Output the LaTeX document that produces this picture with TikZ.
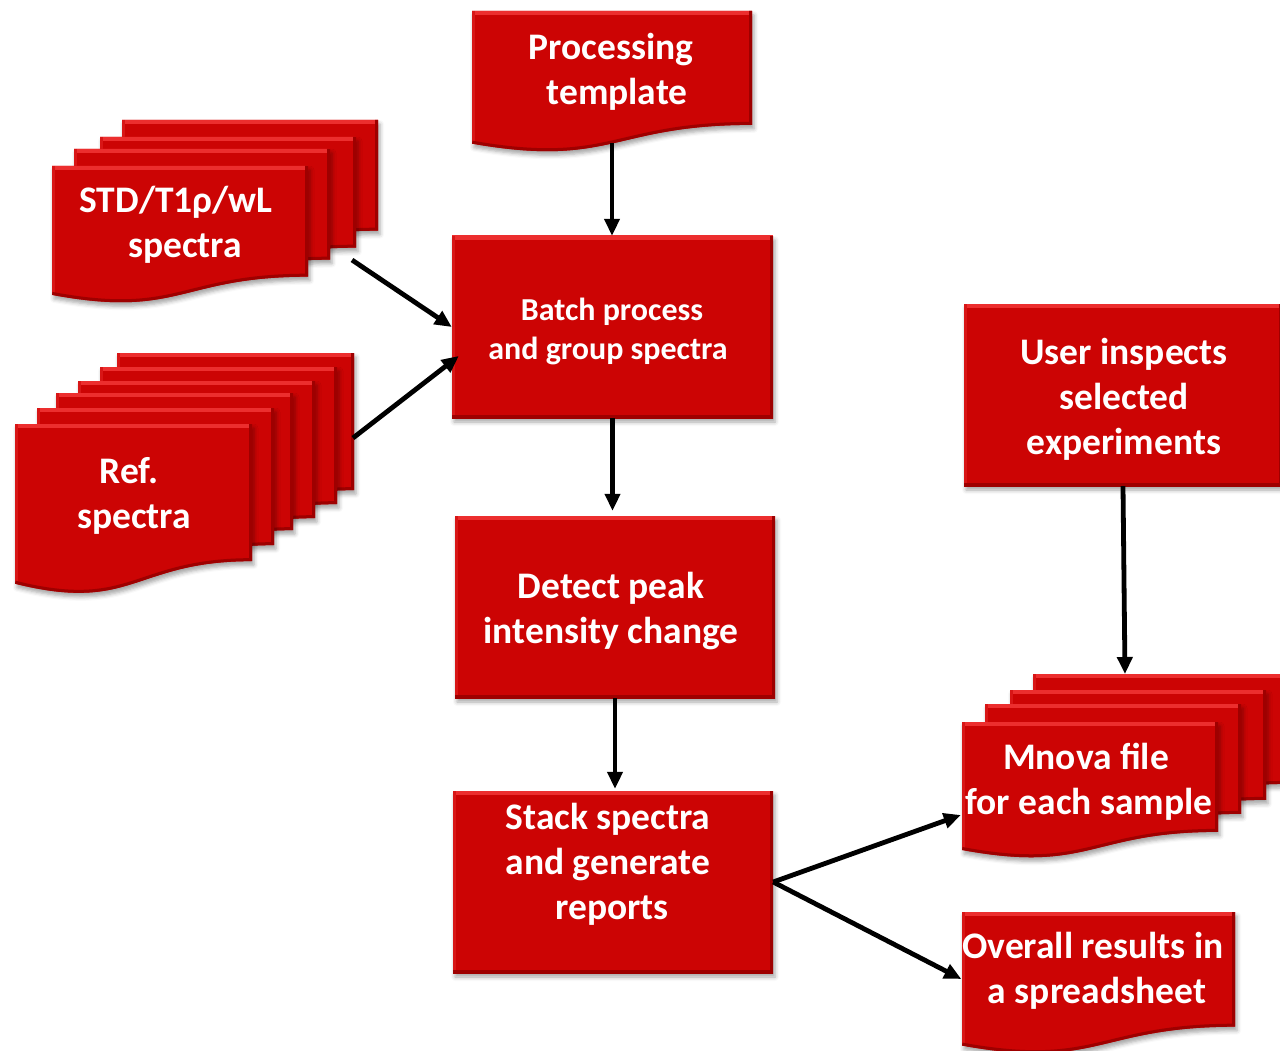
\documentclass[tikz,border=0pt]{standalone}
\usepackage{fontspec}
\setmainfont{Carlito}
\usetikzlibrary{arrows.meta,shadows.blur,calc}
\definecolor{redmain}{RGB}{204,4,4}
\definecolor{bevlight}{RGB}{236,46,46}
\definecolor{bevdark}{RGB}{158,0,0}
\definecolor{bevside}{RGB}{216,22,22}
\tikzset{
  pageshadow/.style={blur shadow={shadow xshift=2pt, shadow yshift=-4pt, shadow blur radius=4pt, shadow opacity=35}},
  rbox/.style={fill=redmain, inner sep=0pt, minimum width=320pt, minimum height=182pt, pageshadow,
    path picture={
      \draw[bevlight, line width=8pt] (path picture bounding box.north west) -- (path picture bounding box.north east);
      \draw[bevside, line width=6pt] (path picture bounding box.north west) -- (path picture bounding box.south west);
      \draw[bevdark, line width=6pt] (path picture bounding box.north east) -- (path picture bounding box.south east) -- (path picture bounding box.south west);
    }},
  frame/.style={inner sep=0pt, draw=none, fill=none},
  txtL/.style={text=white, align=center, inner sep=0pt, font=\fontsize{37.5}{45}\selectfont\bfseries},
  txtS/.style={text=white, align=center, inner sep=0pt, font=\fontsize{32}{39}\selectfont\bfseries},
  arr/.style={line width=4.8pt, black, -{Triangle[length=17pt,width=15pt]}},
}
\newcommand\DocPage[4]{%
  \pgfmathsetmacro\dR{#1+#3}%
  \pgfmathsetmacro\dM{#1+0.5*#3}%
  \pgfmathsetmacro\dB{#2+0.802*#4}%
  \pgfmathsetmacro\dC{#2+1.1075*#4}%
  \pgfmathsetmacro\dL{#2+0.934*#4}%
  \fill[redmain, pageshadow] (#1,#2) -- (\dR,#2) -- (\dR,\dB) .. controls (\dM,\dB) and (\dM,\dC) .. (#1,\dL) -- cycle;
  \begin{scope}
    \clip (#1,#2) -- (\dR,#2) -- (\dR,\dB) .. controls (\dM,\dB) and (\dM,\dC) .. (#1,\dL) -- cycle;
    \draw[bevlight, line width=8pt] (#1,#2) -- (\dR,#2);
    \draw[bevside, line width=6pt] (#1,#2) -- (#1,\dL);
    \draw[bevdark, line width=6pt] (\dR,#2) -- (\dR,\dB) .. controls (\dM,\dB) and (\dM,\dC) .. (#1,\dL);
  \end{scope}
}
\begin{document}
\begin{tikzpicture}[x=1pt, y=-1pt]
\useasboundingbox (0,0) rectangle (1280,1051);
\clip (0,0) rectangle (1280,1051);

% Processing template
\DocPage{472}{11}{280}{142}
\node[frame, minimum width=280pt, minimum height=132pt] (proc) at (612,77) {};
\node[txtL] (proctxt) at (611,71.5) {Processing\\\hspace*{12pt}template};

% STD stack
\DocPage{122}{120}{256}{138}
\DocPage{100}{137}{256}{138}
\DocPage{74}{149}{256}{138}
\DocPage{52}{166}{256}{138}
\node[txtL] (stdtxt) at (176,225) {STD/T1ρ/wL\\\hspace*{18pt}spectra};
\coordinate (stdout) at (352,260);

% Ref stack
\DocPage{117}{353}{237}{171}
\DocPage{100}{367}{237}{171}
\DocPage{78}{381}{237}{171}
\DocPage{56}{393}{237}{171}
\DocPage{37}{408}{237}{171}
\DocPage{15}{424}{237}{171}
\node[txtL] (reftxt) at (134,496) {Ref.\hspace*{10pt}\\spectra};
\coordinate (refout) at (353,438);

% Main column
\node[rbox, minimum width=321pt] (batch) at (612.5,327) {};
\node[txtS] (batchtxt) at (608,331) {\hspace*{8pt}Batch process\\and group spectra};
\node[rbox] (detect) at (615,607) {};
\node[txtL] (detecttxt) at (611,611) {Detect peak\\intensity change};
\node[rbox] (stack) at (613,882) {};
\node[txtL] (stacktxt) at (608,864) {Stack spectra\\and generate\\\hspace*{8pt}reports};

% User inspects
\node[rbox, minimum width=318pt] (user) at (1123,395) {};
\node[txtL] (usertxt) at (1124,399) {User inspects\\selected\hspace*{10pt}\\experiments};

% Mnova stack
\DocPage{1033}{674}{256}{137}
\DocPage{1010}{690}{256}{137}
\DocPage{985}{704}{256}{137}
\DocPage{962}{722}{256}{137}
\node[frame, minimum width=256pt, minimum height=128pt] (mnova) at (1090,786) {};
\node[txtL] (mnovatxt) at (1089,782) {Mnova file\hspace*{6pt}\\for each sample};
\coordinate (mnovatop) at (1125,674);

% Overall results
\DocPage{962}{912}{273}{143}
\node[frame, minimum width=273pt, minimum height=134pt] (overall) at (1098,979) {};
\node[txtL] (overalltxt) at (1093,971) {Overall results in\\\hspace*{8pt}a spreadsheet};

% Connectors
\draw[arr] (proc.south) -- (proc.south |- batch.north);
\draw[arr] (stdout) -- (batch.west);
\draw[arr] (refout) -- ($(batch.west)+(7,29)$);
\draw[arr] (batch.south) -- ($(batch.south |- detect.north)+(0,-5)$);
\draw[arr] (detect.south) -- ($(detect.south |- stack.north)+(0,-2)$);
\draw[arr] (user.south) -- (mnovatop);
\draw[arr] (stack.east) -- ($(mnova.west)+(-1,29)$);
\draw[arr] (stack.east) -- (overall.west);
\end{tikzpicture}
\end{document}
